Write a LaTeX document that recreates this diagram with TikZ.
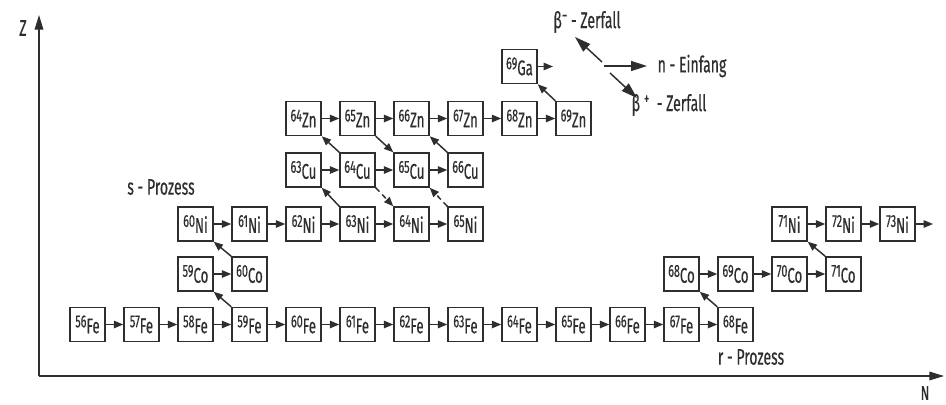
\documentclass[tikz,border=0pt]{standalone}
\usepackage{fontspec}
\setmainfont{Fira Sans}[FakeStretch=0.62, FakeBold=0.4]
\usetikzlibrary{arrows.meta, positioning, calc}
\definecolor{ScanInk}{HTML}{2e2e2e}
\definecolor{ScanPaper}{HTML}{ffffff}
\newcommand{\nuklid}[2]{\raisebox{4.5pt}{\fontsize{13}{13}\selectfont #1}{\fontsize{16}{16}\selectfont #2}}
\newcommand{\ladung}[1]{\raisebox{5pt}{\fontsize{13}{13}\selectfont #1}}
\tikzset{
    % Kaestchen der Nuklide
    nuklid box/.style={
        rectangle,
        draw=ScanInk,
        fill=ScanPaper,
        line width=1.1pt,
        minimum width=26.25pt,
        minimum height=25.5pt,
        inner sep=0pt,
        align=center,
        text=ScanInk
    },
    arrow style/.style={
        -{Triangle[length=7pt,width=5.5pt]},
        line width=1.1pt,
        ScanInk
    },
    dashed arrow style/.style={
        arrow style,
        dash pattern=on 4pt off 3pt
    },
    legend arrow style/.style={
        -{Triangle[length=12pt,width=7.5pt]},
        line width=1.1pt,
        ScanInk
    },
    axis style/.style={
        -{Triangle[length=11pt,width=6.5pt]},
        line width=0.9pt,
        ScanInk
    },
    label text/.style={
        text=ScanInk,
        inner sep=0pt,
        font=\fontsize{17}{17}\selectfont
    }
}
\begin{document}
\begin{tikzpicture}[x=0.75pt, y=-0.75pt]
    \useasboundingbox (0,0) rectangle (946,404);

    % Achsen
    \coordinate (origin) at (39,376);
    \coordinate (zend) at (39,15);
    \coordinate (nend) at (944,376);
    \draw[axis style] (origin) -- (zend);
    \draw[axis style] (origin) -- (nend);
    \node[label text] (zlabel) at (23,28) {Z};
    \node[label text, font=\fontsize{15}{15}\selectfont] (nlabel) at (925,393) {N};

    % Eisen
    \node[nuklid box] (fe56) at (87.5,324.5) {\nuklid{56}{Fe}};
    \node[nuklid box] (fe57) at (141.5,324.5) {\nuklid{57}{Fe}};
    \node[nuklid box] (fe58) at (195.5,324.5) {\nuklid{58}{Fe}};
    \node[nuklid box] (fe59) at (249.5,324.5) {\nuklid{59}{Fe}};
    \node[nuklid box] (fe60) at (303.5,324.5) {\nuklid{60}{Fe}};
    \node[nuklid box] (fe61) at (357.5,324.5) {\nuklid{61}{Fe}};
    \node[nuklid box] (fe62) at (411.5,324.5) {\nuklid{62}{Fe}};
    \node[nuklid box] (fe63) at (465.5,324.5) {\nuklid{63}{Fe}};
    \node[nuklid box] (fe64) at (519.5,324.5) {\nuklid{64}{Fe}};
    \node[nuklid box] (fe65) at (573.5,324.5) {\nuklid{65}{Fe}};
    \node[nuklid box] (fe66) at (627.5,324.5) {\nuklid{66}{Fe}};
    \node[nuklid box] (fe67) at (681.5,324.5) {\nuklid{67}{Fe}};
    \node[nuklid box] (fe68) at (735.5,324.5) {\nuklid{68}{Fe}};

    % Kobalt
    \node[nuklid box] (co59) at (195.5,274) {\nuklid{59}{Co}};
    \node[nuklid box] (co60) at (249.5,274) {\nuklid{60}{Co}};
    \node[nuklid box] (co68) at (681.5,274) {\nuklid{68}{Co}};
    \node[nuklid box] (co69) at (735.5,274) {\nuklid{69}{Co}};
    \node[nuklid box] (co70) at (789.5,274) {\nuklid{70}{Co}};
    \node[nuklid box] (co71) at (843.5,274) {\nuklid{71}{Co}};

    % Nickel
    \node[nuklid box] (ni60) at (195.5,224) {\nuklid{60}{Ni}};
    \node[nuklid box] (ni61) at (249.5,224) {\nuklid{61}{Ni}};
    \node[nuklid box] (ni62) at (303.5,224) {\nuklid{62}{Ni}};
    \node[nuklid box] (ni63) at (357.5,224) {\nuklid{63}{Ni}};
    \node[nuklid box] (ni64) at (411.5,224) {\nuklid{64}{Ni}};
    \node[nuklid box] (ni65) at (465.5,224) {\nuklid{65}{Ni}};
    \node[nuklid box] (ni71) at (789.5,224) {\nuklid{71}{Ni}};
    \node[nuklid box] (ni72) at (843.5,224) {\nuklid{72}{Ni}};
    \node[nuklid box] (ni73) at (897.5,224) {\nuklid{73}{Ni}};

    % Kupfer
    \node[nuklid box] (cu63) at (303.5,170) {\nuklid{63}{Cu}};
    \node[nuklid box] (cu64) at (357.5,170) {\nuklid{64}{Cu}};
    \node[nuklid box] (cu65) at (411.5,170) {\nuklid{65}{Cu}};
    \node[nuklid box] (cu66) at (465.5,170) {\nuklid{66}{Cu}};

    % Zink und Gallium
    \node[nuklid box] (zn64) at (303.5,118.5) {\nuklid{64}{Zn}};
    \node[nuklid box] (zn65) at (357.5,118.5) {\nuklid{65}{Zn}};
    \node[nuklid box] (zn66) at (411.5,118.5) {\nuklid{66}{Zn}};
    \node[nuklid box] (zn67) at (465.5,118.5) {\nuklid{67}{Zn}};
    \node[nuklid box] (zn68) at (519.5,118.5) {\nuklid{68}{Zn}};
    \node[nuklid box] (zn69) at (573.5,118.5) {\nuklid{69}{Zn}};
    \node[nuklid box] (ga69) at (519.5,66.5) {\nuklid{69}{Ga}};

    % Neutroneneinfang
    \draw[arrow style] (fe56) -- (fe57);
    \draw[arrow style] (fe57) -- (fe58);
    \draw[arrow style] (fe58) -- (fe59);
    \draw[arrow style] (fe59) -- (fe60);
    \draw[arrow style] (fe60) -- (fe61);
    \draw[arrow style] (fe61) -- (fe62);
    \draw[arrow style] (fe62) -- (fe63);
    \draw[arrow style] (fe63) -- (fe64);
    \draw[arrow style] (fe64) -- (fe65);
    \draw[arrow style] (fe65) -- (fe66);
    \draw[arrow style] (fe66) -- (fe67);
    \draw[arrow style] (fe67) -- (fe68);
    \draw[arrow style] (co59) -- (co60);
    \draw[arrow style] (co68) -- (co69);
    \draw[arrow style] (co69) -- (co70);
    \draw[arrow style] (co70) -- (co71);
    \draw[arrow style] (ni60) -- (ni61);
    \draw[arrow style] (ni61) -- (ni62);
    \draw[arrow style] (ni62) -- (ni63);
    \draw[arrow style] (ni63) -- (ni64);
    \draw[arrow style] (ni64) -- (ni65);
    \draw[arrow style] (ni71) -- (ni72);
    \draw[arrow style] (ni72) -- (ni73);
    \draw[arrow style] (cu63) -- (cu64);
    \draw[arrow style] (cu64) -- (cu65);
    \draw[arrow style] (cu65) -- (cu66);
    \draw[arrow style] (zn64) -- (zn65);
    \draw[arrow style] (zn65) -- (zn66);
    \draw[arrow style] (zn66) -- (zn67);
    \draw[arrow style] (zn67) -- (zn68);
    \draw[arrow style] (zn68) -- (zn69);
    \coordinate (gaout) at (553,66.5);
    \coordinate (niout) at (933,224);
    \draw[arrow style] (ga69) -- (gaout);
    \draw[arrow style] (ni73) -- (niout);

    % Beta-Zerfaelle
    \draw[arrow style] (fe59.north west) -- (co59.south east);
    \draw[arrow style] (co60.north west) -- (ni60.south east);
    \draw[arrow style] (ni63.north west) -- (cu63.south east);
    \draw[arrow style] (cu64.north west) -- (zn64.south east);
    \draw[arrow style] (cu66.north west) -- (zn66.south east);
    \draw[arrow style] (zn69.north west) -- (ga69.south east);
    \draw[arrow style] (fe68.north west) -- (co68.south east);
    \draw[arrow style] (co71.north west) -- (ni71.south east);
    \draw[arrow style] (zn65.south east) -- (cu65.north west);
    \draw[dashed arrow style] (cu64.south east) -- (ni64.north west);
    \draw[dashed arrow style] (ni65.north west) -- (cu65.south east);

    % Prozesse
    \node[label text] (sprozess) at (161,187) {s - Prozess};
    \node[label text] (rprozess) at (751,357) {r - Prozess};

    % Legende
    \coordinate (legend) at (603,67);
    \coordinate (legendout) at (647,66);
    \node[label text] (betaminus) at (587,22) {β\ladung{−} - Zerfall};
    \node[label text] (einfang) at (692,66) {n - Einfang};
    \node[label text] (betaplus) at (669,105) {β\,\ladung{+}\ \ - Zerfall};
    \draw[legend arrow style] ([shift={(-1,-5)}]legend) -- (575,37);
    \draw[legend arrow style] ([shift={(1,-1)}]legend) -- (legendout);
    \draw[legend arrow style] ([shift={(7,6)}]legend) -- (637,98);
\end{tikzpicture}
\end{document}
